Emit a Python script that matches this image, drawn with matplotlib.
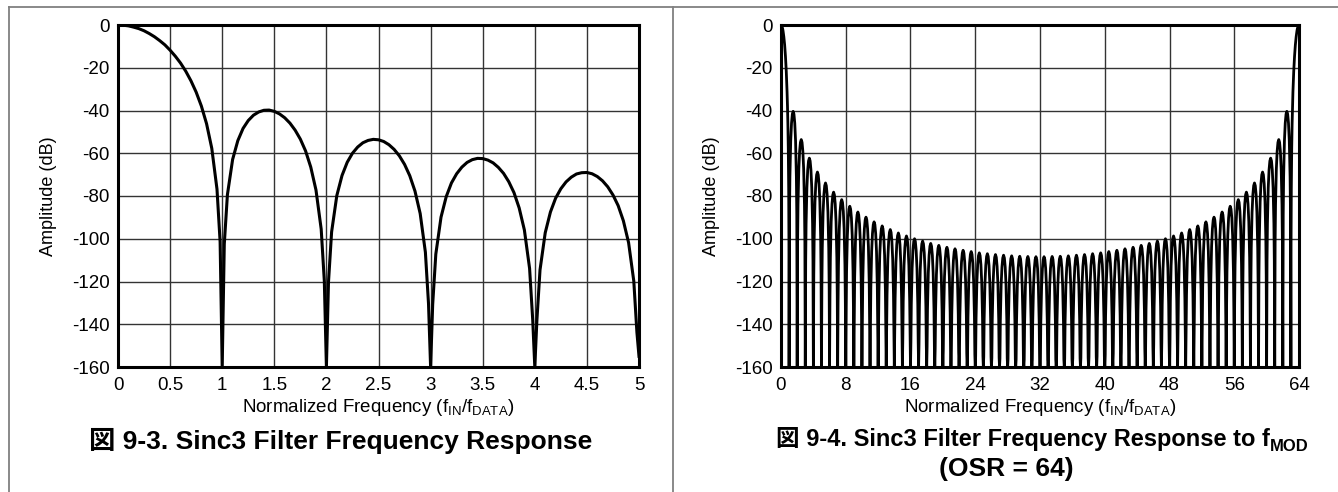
import numpy as np
import matplotlib
matplotlib.use('Agg')
import matplotlib.pyplot as plt
from matplotlib.lines import Line2D

plt.rcParams['font.family'] = ['Liberation Sans', 'Noto Sans CJK JP']
plt.rcParams['mathtext.fontset'] = 'custom'
plt.rcParams['axes.unicode_minus'] = False

# ---- left chart: Sinc3 response, 0..5 x f_DATA ----
# main lobe (0..1)
main_freq = [0, 0.05, 0.1, 0.15, 0.2, 0.25, 0.3, 0.35, 0.4, 0.45, 0.5, 0.55, 0.6, 0.65,
             0.7, 0.75, 0.8, 0.85, 0.9, 0.95, 0.98, 1.0]
main_amp = [0, -0.1, -0.4, -1.0, -1.7, -2.7, -4.0, -5.5, -7.3, -9.3, -11.8, -14.6, -17.8, -21.6,
            -26.1, -31.4, -37.9, -46.2, -57.7, -76.8, -101.4, -160]

# side lobes n..n+1, sampled at n + offset
side_offsets = [0.02, 0.05, 0.1, 0.15, 0.2, 0.25, 0.3, 0.35, 0.4, 0.45, 0.5, 0.55, 0.6,
                0.65, 0.7, 0.75, 0.8, 0.85, 0.9, 0.95, 0.98, 1.0]
lobe1_amp = [-102.5, -79.4, -62.9, -54.1, -48.4, -44.7, -42.2, -40.7, -39.9, -39.8, -40.4, -41.6,
             -43.4, -45.9, -49.2, -53.4, -58.9, -66.5, -77.2, -95.5, -119.7, -160]
lobe2_amp = [-120.3, -96.8, -79.8, -70.4, -64.2, -60.0, -57.1, -55.1, -54.0, -53.5, -53.7, -54.5,
             -56.0, -58.2, -61.2, -65.2, -70.5, -77.7, -88.2, -106.3, -130.4, -160]
lobe3_amp = [-130.7, -107.2, -89.9, -80.3, -73.9, -69.6, -66.5, -64.3, -63.0, -62.4, -62.5, -63.2,
             -64.5, -66.6, -69.4, -73.3, -78.4, -85.6, -95.9, -113.9, -137.9, -160]
lobe4_amp = [-138.2, -114.6, -97.2, -87.5, -81.0, -76.6, -73.4, -71.2, -69.7, -69.1, -69.0, -69.6,
             -70.9, -72.9, -75.7, -79.5, -84.5, -91.6, -101.8, -119.8, -143.8, -155]

left_xticks = [0, 0.5, 1, 1.5, 2, 2.5, 3, 3.5, 4, 4.5, 5]
left_xlabels = ['0', '0.5', '1', '1.5', '2', '2.5', '3', '3.5', '4', '4.5', '5']

# ---- right chart: response to f_MOD (OSR = 64), 0..64 ----
# peak level of side lobe k (between k and k+1), k = 1..31, mirrored for 32..62
lobe_peaks_half = [-40.4, -53.6, -62.3, -68.8, -73.9, -78.2, -81.7, -84.8, -87.5, -89.9,
                   -92.1, -94.0, -95.7, -97.3, -98.7, -100.0, -101.1, -102.2, -103.1, -104.0,
                   -104.7, -105.4, -106.0, -106.6, -107.0, -107.4, -107.7, -108.0, -108.2,
                   -108.3, -108.4]
# shape of one narrow lobe relative to its peak (null at offset 1.0)
narrow_offsets = [0.05, 0.1, 0.2, 0.3, 0.4, 0.5, 0.6, 0.7, 0.8, 0.9, 0.95, 1.0]
narrow_drop = [-48.3, -30.6, -13.8, -5.5, -1.3, 0, -1.3, -5.5, -13.8, -30.6, -48.3, None]

right_xticks = [0, 8, 16, 24, 32, 40, 48, 56, 64]
yticks = [0, -20, -40, -60, -80, -100, -120, -140, -160]
floor_db = -160

# build the series
left_f = list(main_freq)
left_a = list(main_amp)
for n, amps in enumerate([lobe1_amp, lobe2_amp, lobe3_amp, lobe4_amp], start=1):
    left_f += [n + o for o in side_offsets]
    left_a += amps

lobe_peaks = lobe_peaks_half + lobe_peaks_half[::-1]
right_f = list(main_freq)
right_a = list(main_amp)
for k, peak in enumerate(lobe_peaks, start=1):
    for o, d in zip(narrow_offsets, narrow_drop):
        right_f.append(k + o)
        right_a.append(floor_db if d is None else max(peak + d, floor_db))
right_f += [64 - f for f in main_freq[::-1][1:]]
right_a += main_amp[::-1][1:]

W, H = 1338, 492
fig = plt.figure(figsize=(W / 100, H / 100), dpi=100)

def px(x0, y0, x1, y1):
    return [x0 / W, 1 - y1 / H, (x1 - x0) / W, (y1 - y0) / H]

def style_axes(ax, xticks, xlabels, xlim):
    ax.set_xlim(xlim)
    ax.set_ylim(-160, 0)
    ax.set_xticks(xticks)
    ax.set_xticklabels(xlabels)
    ax.set_yticks(yticks)
    ax.grid(True, color='#333333', linewidth=1.0, zorder=0)
    ax.set_axisbelow(True)
    for s in ax.spines.values():
        s.set_linewidth(2.2)
        s.set_color('black')
    ax.tick_params(length=0, labelsize=13.5, colors='black')
    ax.tick_params(axis='x', pad=7)
    ax.tick_params(axis='y', pad=6)
    ax.set_ylabel('Amplitude (dB)', fontsize=13)
    ax.yaxis.set_label_coords(-0.118, 0.5)
    ax.set_xlabel(r'Normalized Frequency (f$_{\mathregular{IN}}$/f$_{\mathregular{DATA}}$)', fontsize=13.5)
    ax.xaxis.set_label_coords(0.5, -0.088)

ax1 = fig.add_axes(px(118, 25, 639, 367))
ax1.plot(left_f, left_a, color='black', linewidth=2.2, zorder=3)
style_axes(ax1, left_xticks, left_xlabels, (0, 5))

ax2 = fig.add_axes(px(781, 25, 1299, 367))
ax2.plot(right_f, right_a, color='black', linewidth=2.0, zorder=3)
style_axes(ax2, right_xticks, [str(t) for t in right_xticks], (0, 64))

# frame lines
frame = dict(color='#808080', linewidth=1.3, transform=fig.transFigure)
fig.add_artist(Line2D([9 / W, 1], [1 - 7 / H, 1 - 7 / H], **frame))
fig.add_artist(Line2D([9 / W, 9 / W], [1 - 7 / H, 0], **frame))
fig.add_artist(Line2D([673 / W, 673 / W], [1 - 7 / H, 0], **frame))

# captions
cap = dict(fontsize=19, fontweight='bold', ha='center', va='baseline')
fig.text(341 / W, 1 - 449 / H, '図 9-3. Sinc3 Filter Frequency Response', **cap)
fig.text(1006 / W, 1 - 476 / H, '(OSR = 64)', **cap)

# first caption line of the right chart, with subscript MOD
renderer = fig.canvas.get_renderer()
t_main = fig.text(0, 1 - 446 / H, '図 9-4. Sinc3 Filter Frequency Response to f',
                  fontsize=17, fontweight='bold', ha='left', va='baseline')
t_sub = fig.text(0, 1 - 451 / H, 'MOD', fontsize=12, fontweight='bold', ha='left', va='baseline')
w_main = t_main.get_window_extent(renderer).width
w_sub = t_sub.get_window_extent(renderer).width
x_start = 1042 - (w_main + w_sub) / 2
t_main.set_x(x_start / W)
t_sub.set_x((x_start + w_main) / W)

fig.savefig('out.png', dpi=100)
